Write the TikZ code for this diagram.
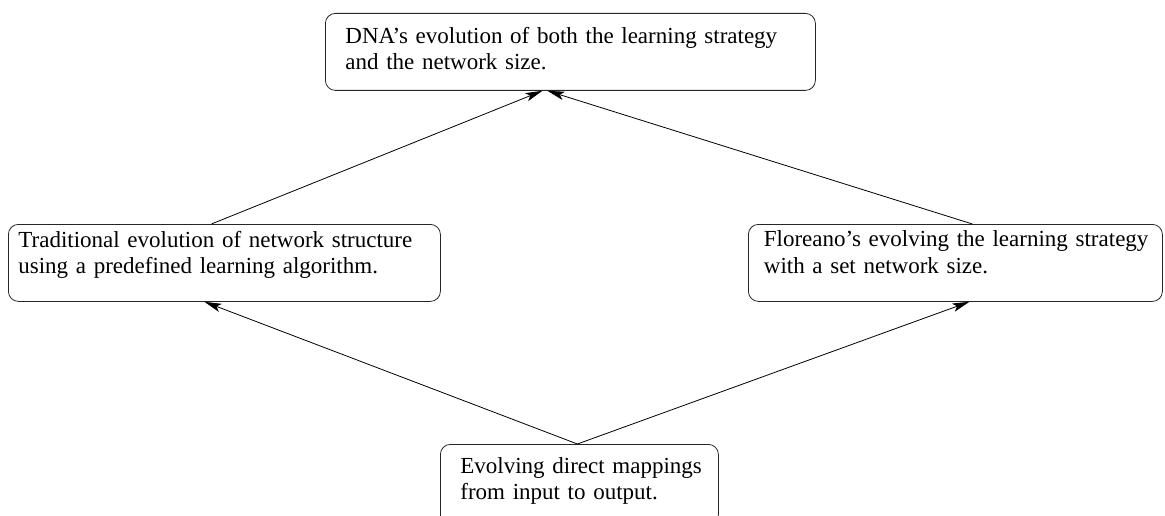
\documentclass[tikz,border=0pt]{standalone}
\usepackage{fontspec}
\setmainfont{Liberation Serif}
\usetikzlibrary{arrows.meta}
% two-line stage label: #1 = room above first baseline, #2 = room below last baseline
\newcommand{\stagelines}[4]{\noindent\rule{0pt}{#1}\mbox{#3}\\\mbox{#4}\rule[-#2]{0pt}{0pt}}
\begin{document}
\begin{tikzpicture}[x=1pt,y=-1pt,
  stage/.style={draw=black!85, line width=0.8pt, rounded corners=10pt,
    anchor=north west, align=left, inner ysep=0pt,
    font=\fontsize{23}{26.5}\selectfont},
  link/.style={line width=0.8pt, -{Stealth[length=17pt,width=8.5pt,inset=4pt]}}]
\useasboundingbox (0,0) rectangle (1165,516);
% stage boxes
\node[stage, inner xsep=20pt, text width=450pt] (dna) at (325,13)
  {\stagelines{30pt}{20.5pt}{DNA's evolution of both the learning strategy}{and the network size.}};
\node[stage, inner xsep=10pt, text width=412pt] (trad) at (8,224)
  {\stagelines{23pt}{27.5pt}{Traditional evolution of network structure}{using a predefined learning algorithm.}};
\node[stage, inner xsep=15.5pt, text width=383pt] (flor) at (748,224)
  {\stagelines{22.5pt}{28pt}{Floreano's evolving the learning strategy}{with a set network size.}};
\node[stage, inner xsep=20pt, text width=238pt] (direct) at (440,444)
  {\stagelines{28.7pt}{25pt}{Evolving direct mappings}{from input to output.}};
% connectors
\draw[link] ([xshift=-13pt]trad.north) -- ([xshift=-28pt]dna.south);
\draw[link] ([xshift=17pt]flor.north) -- ([xshift=-23pt]dna.south);
\draw[link] ([xshift=-2pt]direct.north) -- ([xshift=-20pt]trad.south);
\draw[link] ([xshift=-2pt]direct.north) -- ([xshift=14pt]flor.south);
\end{tikzpicture}
\end{document}
